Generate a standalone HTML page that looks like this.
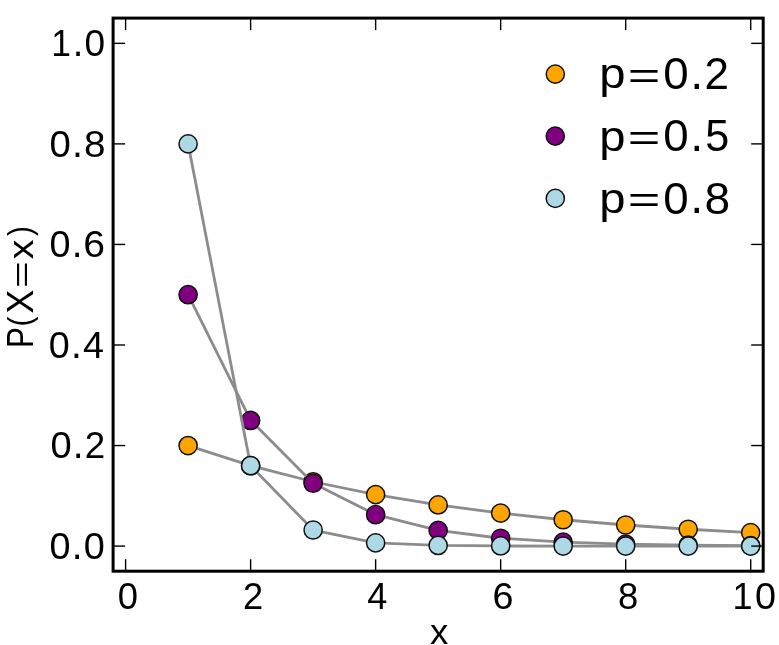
<!DOCTYPE html>
<html><head><meta charset="utf-8"><style>
html,body{margin:0;padding:0;background:#fff;overflow:hidden;}
svg{display:block;will-change:transform;}
text{font-family:"Liberation Sans",sans-serif;fill:#000;}
</style></head><body>
<svg width="779" height="645" viewBox="0 0 779 645">
<g>
<rect x="0" y="0" width="779" height="645" fill="#fff"/>
<path d="M188.11,445.55 L250.62,465.66 L313.13,481.75 L375.64,494.62 L438.15,504.91 L500.66,513.15 L563.17,519.74 L625.68,525.01 L688.19,529.23 L750.70,532.60" fill="none" stroke="#8c8c8c" stroke-width="2.8" stroke-linejoin="round"/>
<circle cx="188.11" cy="445.55" r="9.1" fill="#ffa500" stroke="#111" stroke-width="1.5"/>
<circle cx="250.62" cy="465.66" r="9.1" fill="#ffa500" stroke="#111" stroke-width="1.5"/>
<circle cx="313.13" cy="481.75" r="9.1" fill="#ffa500" stroke="#111" stroke-width="1.5"/>
<circle cx="375.64" cy="494.62" r="9.1" fill="#ffa500" stroke="#111" stroke-width="1.5"/>
<circle cx="438.15" cy="504.91" r="9.1" fill="#ffa500" stroke="#111" stroke-width="1.5"/>
<circle cx="500.66" cy="513.15" r="9.1" fill="#ffa500" stroke="#111" stroke-width="1.5"/>
<circle cx="563.17" cy="519.74" r="9.1" fill="#ffa500" stroke="#111" stroke-width="1.5"/>
<circle cx="625.68" cy="525.01" r="9.1" fill="#ffa500" stroke="#111" stroke-width="1.5"/>
<circle cx="688.19" cy="529.23" r="9.1" fill="#ffa500" stroke="#111" stroke-width="1.5"/>
<circle cx="750.70" cy="532.60" r="9.1" fill="#ffa500" stroke="#111" stroke-width="1.5"/>
<path d="M188.11,294.72 L250.62,420.41 L313.13,483.25 L375.64,514.68 L438.15,530.39 L500.66,538.24 L563.17,542.17 L625.68,544.14 L688.19,545.12 L750.70,545.61" fill="none" stroke="#8c8c8c" stroke-width="2.8" stroke-linejoin="round"/>
<circle cx="188.11" cy="294.72" r="9.1" fill="#800080" stroke="#111" stroke-width="1.5"/>
<circle cx="250.62" cy="420.41" r="9.1" fill="#800080" stroke="#111" stroke-width="1.5"/>
<circle cx="313.13" cy="483.25" r="9.1" fill="#800080" stroke="#111" stroke-width="1.5"/>
<circle cx="375.64" cy="514.68" r="9.1" fill="#800080" stroke="#111" stroke-width="1.5"/>
<circle cx="438.15" cy="530.39" r="9.1" fill="#800080" stroke="#111" stroke-width="1.5"/>
<circle cx="500.66" cy="538.24" r="9.1" fill="#800080" stroke="#111" stroke-width="1.5"/>
<circle cx="563.17" cy="542.17" r="9.1" fill="#800080" stroke="#111" stroke-width="1.5"/>
<circle cx="625.68" cy="544.14" r="9.1" fill="#800080" stroke="#111" stroke-width="1.5"/>
<circle cx="688.19" cy="545.12" r="9.1" fill="#800080" stroke="#111" stroke-width="1.5"/>
<circle cx="750.70" cy="545.61" r="9.1" fill="#800080" stroke="#111" stroke-width="1.5"/>
<path d="M188.11,143.89 L250.62,465.66 L313.13,530.01 L375.64,542.88 L438.15,545.46 L500.66,545.97 L563.17,546.07 L625.68,546.09 L688.19,546.10 L750.70,546.10" fill="none" stroke="#8c8c8c" stroke-width="2.8" stroke-linejoin="round"/>
<circle cx="188.11" cy="143.89" r="9.1" fill="#add8e6" stroke="#111" stroke-width="1.5"/>
<circle cx="250.62" cy="465.66" r="9.1" fill="#add8e6" stroke="#111" stroke-width="1.5"/>
<circle cx="313.13" cy="530.01" r="9.1" fill="#add8e6" stroke="#111" stroke-width="1.5"/>
<circle cx="375.64" cy="542.88" r="9.1" fill="#add8e6" stroke="#111" stroke-width="1.5"/>
<circle cx="438.15" cy="545.46" r="9.1" fill="#add8e6" stroke="#111" stroke-width="1.5"/>
<circle cx="500.66" cy="545.97" r="9.1" fill="#add8e6" stroke="#111" stroke-width="1.5"/>
<circle cx="563.17" cy="546.07" r="9.1" fill="#add8e6" stroke="#111" stroke-width="1.5"/>
<circle cx="625.68" cy="546.09" r="9.1" fill="#add8e6" stroke="#111" stroke-width="1.5"/>
<circle cx="688.19" cy="546.10" r="9.1" fill="#add8e6" stroke="#111" stroke-width="1.5"/>
<circle cx="750.70" cy="546.10" r="9.1" fill="#add8e6" stroke="#111" stroke-width="1.5"/>
<line x1="125.60" y1="571.2" x2="125.60" y2="559.2" stroke="#000" stroke-width="1.4"/>
<line x1="125.60" y1="18.1" x2="125.60" y2="30.1" stroke="#000" stroke-width="1.4"/>
<line x1="113.1" y1="546.10" x2="125.1" y2="546.10" stroke="#000" stroke-width="1.4"/>
<line x1="763.2" y1="546.10" x2="751.2" y2="546.10" stroke="#000" stroke-width="1.4"/>
<line x1="250.62" y1="571.2" x2="250.62" y2="559.2" stroke="#000" stroke-width="1.4"/>
<line x1="250.62" y1="18.1" x2="250.62" y2="30.1" stroke="#000" stroke-width="1.4"/>
<line x1="113.1" y1="445.55" x2="125.1" y2="445.55" stroke="#000" stroke-width="1.4"/>
<line x1="763.2" y1="445.55" x2="751.2" y2="445.55" stroke="#000" stroke-width="1.4"/>
<line x1="375.64" y1="571.2" x2="375.64" y2="559.2" stroke="#000" stroke-width="1.4"/>
<line x1="375.64" y1="18.1" x2="375.64" y2="30.1" stroke="#000" stroke-width="1.4"/>
<line x1="113.1" y1="345.00" x2="125.1" y2="345.00" stroke="#000" stroke-width="1.4"/>
<line x1="763.2" y1="345.00" x2="751.2" y2="345.00" stroke="#000" stroke-width="1.4"/>
<line x1="500.66" y1="571.2" x2="500.66" y2="559.2" stroke="#000" stroke-width="1.4"/>
<line x1="500.66" y1="18.1" x2="500.66" y2="30.1" stroke="#000" stroke-width="1.4"/>
<line x1="113.1" y1="244.44" x2="125.1" y2="244.44" stroke="#000" stroke-width="1.4"/>
<line x1="763.2" y1="244.44" x2="751.2" y2="244.44" stroke="#000" stroke-width="1.4"/>
<line x1="625.68" y1="571.2" x2="625.68" y2="559.2" stroke="#000" stroke-width="1.4"/>
<line x1="625.68" y1="18.1" x2="625.68" y2="30.1" stroke="#000" stroke-width="1.4"/>
<line x1="113.1" y1="143.89" x2="125.1" y2="143.89" stroke="#000" stroke-width="1.4"/>
<line x1="763.2" y1="143.89" x2="751.2" y2="143.89" stroke="#000" stroke-width="1.4"/>
<line x1="750.70" y1="571.2" x2="750.70" y2="559.2" stroke="#000" stroke-width="1.4"/>
<line x1="750.70" y1="18.1" x2="750.70" y2="30.1" stroke="#000" stroke-width="1.4"/>
<line x1="113.1" y1="43.34" x2="125.1" y2="43.34" stroke="#000" stroke-width="1.4"/>
<line x1="763.2" y1="43.34" x2="751.2" y2="43.34" stroke="#000" stroke-width="1.4"/>
<rect x="113.1" y="18.1" width="650.10" height="553.10" fill="none" stroke="#000" stroke-width="3.0"/>
<text transform="translate(0,558.90) scale(1,1.0015)" x="49.52" y="0" font-size="36.8" textLength="21.07" lengthAdjust="spacingAndGlyphs">0</text><text transform="translate(0,558.78) scale(1,1.0873)" x="71.79" y="0" font-size="36.8" textLength="10.80" lengthAdjust="spacingAndGlyphs">.</text><text transform="translate(0,558.90) scale(1,1.0015)" x="83.81" y="0" font-size="36.8" textLength="21.07" lengthAdjust="spacingAndGlyphs">0</text>
<text transform="translate(0,458.35) scale(1,1.0015)" x="50.41" y="0" font-size="36.8" textLength="21.20" lengthAdjust="spacingAndGlyphs">0</text><text transform="translate(0,458.22) scale(1,1.0873)" x="72.82" y="0" font-size="36.8" textLength="10.87" lengthAdjust="spacingAndGlyphs">.</text><text transform="translate(0,458.22) scale(1,0.9965)" x="84.82" y="0" font-size="36.8" textLength="20.43" lengthAdjust="spacingAndGlyphs">2</text>
<text transform="translate(0,357.80) scale(1,1.0015)" x="48.83" y="0" font-size="36.8" textLength="20.96" lengthAdjust="spacingAndGlyphs">0</text><text transform="translate(0,357.67) scale(1,1.0873)" x="70.98" y="0" font-size="36.8" textLength="10.75" lengthAdjust="spacingAndGlyphs">.</text><text transform="translate(0,357.67) scale(1,0.9934)" x="82.94" y="0" font-size="36.8" textLength="20.97" lengthAdjust="spacingAndGlyphs">4</text>
<text transform="translate(0,257.25) scale(1,1.0015)" x="49.52" y="0" font-size="36.8" textLength="21.02" lengthAdjust="spacingAndGlyphs">0</text><text transform="translate(0,257.12) scale(1,1.0873)" x="71.74" y="0" font-size="36.8" textLength="10.78" lengthAdjust="spacingAndGlyphs">.</text><text transform="translate(0,257.25) scale(1,1.0015)" x="83.36" y="0" font-size="36.8" textLength="21.76" lengthAdjust="spacingAndGlyphs">6</text>
<text transform="translate(0,156.70) scale(1,1.0015)" x="49.50" y="0" font-size="36.8" textLength="21.30" lengthAdjust="spacingAndGlyphs">0</text><text transform="translate(0,156.57) scale(1,1.0873)" x="72.02" y="0" font-size="36.8" textLength="10.92" lengthAdjust="spacingAndGlyphs">.</text><text transform="translate(0,156.70) scale(1,1.0015)" x="84.05" y="0" font-size="36.8" textLength="21.53" lengthAdjust="spacingAndGlyphs">8</text>
<text transform="translate(0,56.02) scale(1,0.9934)" x="51.20" y="0" font-size="36.8" textLength="19.68" lengthAdjust="spacingAndGlyphs">1</text><text transform="translate(0,56.02) scale(1,1.0873)" x="72.69" y="0" font-size="36.8" textLength="10.57" lengthAdjust="spacingAndGlyphs">.</text><text transform="translate(0,56.14) scale(1,1.0015)" x="84.44" y="0" font-size="36.8" textLength="20.61" lengthAdjust="spacingAndGlyphs">0</text>
<text transform="translate(0,609.43) scale(1,1.0015)" x="117.78" y="0" font-size="36.8" textLength="20.24" lengthAdjust="spacingAndGlyphs">0</text>
<text transform="translate(0,609.30) scale(1,0.9965)" x="242.98" y="0" font-size="36.8" textLength="20.14" lengthAdjust="spacingAndGlyphs">2</text>
<text transform="translate(0,609.30) scale(1,0.9934)" x="367.27" y="0" font-size="36.8" textLength="20.09" lengthAdjust="spacingAndGlyphs">4</text>
<text transform="translate(0,609.43) scale(1,1.0015)" x="492.49" y="0" font-size="36.8" textLength="20.97" lengthAdjust="spacingAndGlyphs">6</text>
<text transform="translate(0,609.43) scale(1,1.0015)" x="618.12" y="0" font-size="36.8" textLength="20.27" lengthAdjust="spacingAndGlyphs">8</text>
<text transform="translate(0,609.30) scale(1,0.9934)" x="732.45" y="0" font-size="36.8" textLength="20.07" lengthAdjust="spacingAndGlyphs">1</text><text transform="translate(0,609.43) scale(1,1.0015)" x="754.96" y="0" font-size="36.8" textLength="21.02" lengthAdjust="spacingAndGlyphs">0</text>
<text transform="translate(0,644.27) scale(1,0.9704)" x="429.99" y="0" font-size="36.8" textLength="18.30" lengthAdjust="spacingAndGlyphs">x</text>
<g transform="translate(32.8,0) rotate(-90)"><text transform="translate(0,0.00) scale(1,1.0123)" x="-348.07" y="0" font-size="35.8" textLength="20.92" lengthAdjust="spacingAndGlyphs">P</text><text transform="translate(0,-2.26) scale(1,0.9132)" x="-326.41" y="0" font-size="35.8" textLength="9.98" lengthAdjust="spacingAndGlyphs">(</text><text transform="translate(0,0.00) scale(1,1.0123)" x="-313.51" y="0" font-size="35.8" textLength="23.67" lengthAdjust="spacingAndGlyphs">X</text><text transform="translate(0,-0.85) scale(1,0.8366)" x="-287.95" y="0" font-size="35.8" textLength="26.68" lengthAdjust="spacingAndGlyphs">=</text><text transform="translate(0,0.00) scale(1,0.9889)" x="-259.19" y="0" font-size="35.8" textLength="19.67" lengthAdjust="spacingAndGlyphs">x</text><text transform="translate(0,-2.26) scale(1,0.9132)" x="-236.12" y="0" font-size="35.8" textLength="9.98" lengthAdjust="spacingAndGlyphs">)</text></g>
<circle cx="555.3" cy="74.1" r="9.1" fill="#ffa500" stroke="#111" stroke-width="1.5"/>
<text transform="translate(0,88.45) scale(1,0.9862)" x="599.36" y="0" font-size="43.9" textLength="26.23" lengthAdjust="spacingAndGlyphs">p</text><text transform="translate(0,87.66) scale(1,0.8379)" x="627.85" y="0" font-size="43.9" textLength="32.62" lengthAdjust="spacingAndGlyphs">=</text><text transform="translate(0,88.86) scale(1,1.0220)" x="663.38" y="0" font-size="43.9" textLength="25.41" lengthAdjust="spacingAndGlyphs">0</text><text transform="translate(0,88.70) scale(1,1.1096)" x="690.24" y="0" font-size="43.9" textLength="13.03" lengthAdjust="spacingAndGlyphs">.</text><text transform="translate(0,88.70) scale(1,1.0169)" x="704.62" y="0" font-size="43.9" textLength="24.50" lengthAdjust="spacingAndGlyphs">2</text>
<circle cx="555.3" cy="136.1" r="9.1" fill="#800080" stroke="#111" stroke-width="1.5"/>
<text transform="translate(0,150.80) scale(1,0.9862)" x="599.36" y="0" font-size="43.9" textLength="26.23" lengthAdjust="spacingAndGlyphs">p</text><text transform="translate(0,150.01) scale(1,0.8379)" x="627.85" y="0" font-size="43.9" textLength="32.62" lengthAdjust="spacingAndGlyphs">=</text><text transform="translate(0,151.21) scale(1,1.0220)" x="663.38" y="0" font-size="43.9" textLength="25.41" lengthAdjust="spacingAndGlyphs">0</text><text transform="translate(0,151.05) scale(1,1.1096)" x="690.24" y="0" font-size="43.9" textLength="13.03" lengthAdjust="spacingAndGlyphs">.</text><text transform="translate(0,151.21) scale(1,1.0190)" x="705.28" y="0" font-size="43.9" textLength="23.99" lengthAdjust="spacingAndGlyphs">5</text>
<circle cx="555.3" cy="198.4" r="9.1" fill="#add8e6" stroke="#111" stroke-width="1.5"/>
<text transform="translate(0,213.15) scale(1,0.9862)" x="599.36" y="0" font-size="43.9" textLength="26.23" lengthAdjust="spacingAndGlyphs">p</text><text transform="translate(0,212.36) scale(1,0.8379)" x="627.85" y="0" font-size="43.9" textLength="32.62" lengthAdjust="spacingAndGlyphs">=</text><text transform="translate(0,213.56) scale(1,1.0220)" x="663.38" y="0" font-size="43.9" textLength="25.41" lengthAdjust="spacingAndGlyphs">0</text><text transform="translate(0,213.40) scale(1,1.1096)" x="690.24" y="0" font-size="43.9" textLength="13.03" lengthAdjust="spacingAndGlyphs">.</text><text transform="translate(0,213.56) scale(1,1.0220)" x="704.60" y="0" font-size="43.9" textLength="25.69" lengthAdjust="spacingAndGlyphs">8</text>
</g>
</svg>
</body></html>
